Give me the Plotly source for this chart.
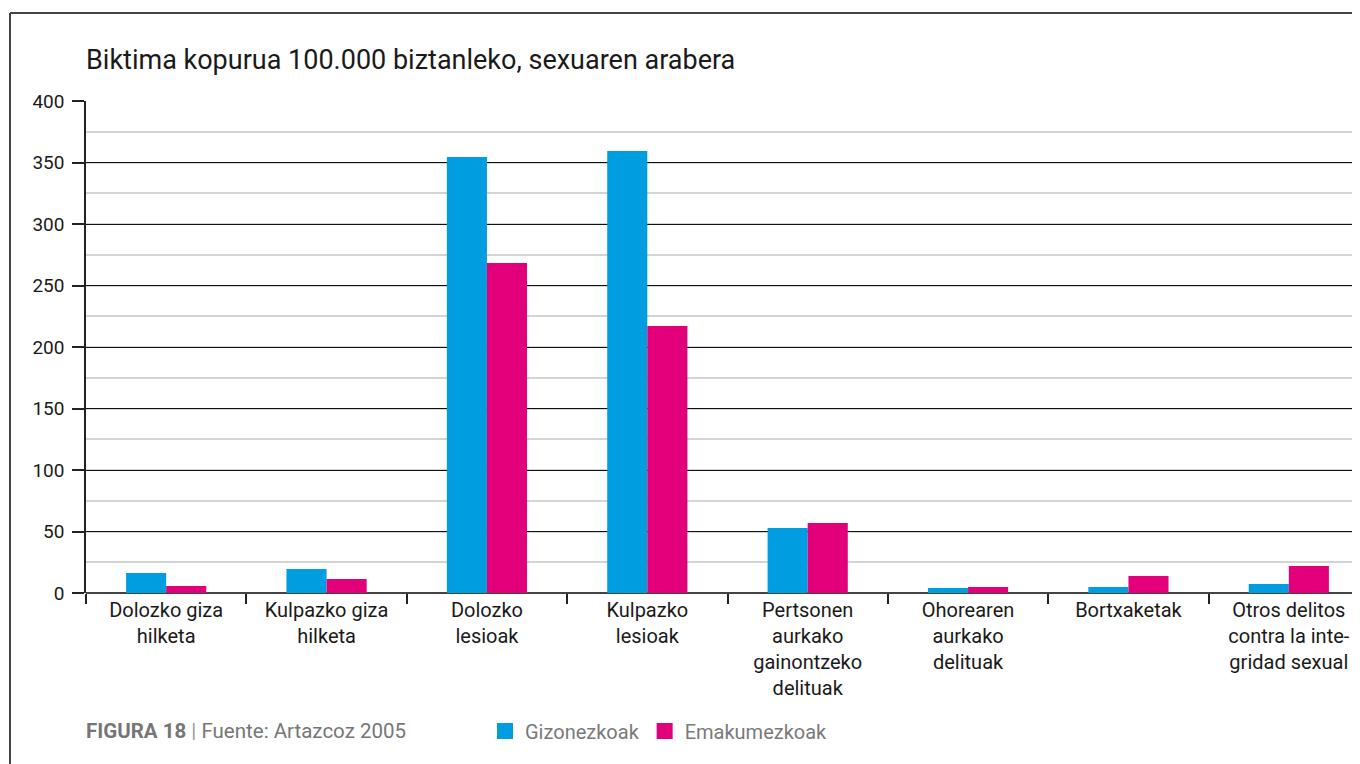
import plotly.graph_objects as go

categories = [
    "Dolozko giza<br>hilketa",
    "Kulpazko giza<br>hilketa",
    "Dolozko<br>lesioak",
    "Kulpazko<br>lesioak",
    "Pertsonen<br>aurkako<br>gainontzeko<br>delituak",
    "Ohorearen<br>aurkako<br>delituak",
    "Bortxaketak",
    "Otros delitos<br>contra la inte-<br>gridad sexual",
]
gizonezkoak = [16.3, 19.5, 354.5, 359.3, 52.8, 4.0, 4.9, 7.3]
emakumezkoak = [5.7, 11.4, 268.3, 217.0, 56.9, 4.9, 13.8, 22.0]
y_ticks = [0, 50, 100, 150, 200, 250, 300, 350, 400]

BLUE = "#009EE0"
PINK = "#E2007A"
FONT = "Roboto"

# the page body has an 8px margin, so the figure is drawn 8px smaller
OFF = 8
W, H = 1360 - OFF, 764 - OFF
L, R, T, B = 86 - OFF, 0, 101 - OFF, 171
PW, PH = W - L - R, H - T - B


def px(xref_pix):
    return (xref_pix - OFF - L) / PW


def py(yref_pix):
    return (H - B - (yref_pix - OFF)) / PH


fig = go.Figure()
fig.add_trace(go.Bar(x=categories, y=gizonezkoak, name="Gizonezkoak",
                     marker=dict(color=BLUE, line=dict(width=0)), showlegend=False))
fig.add_trace(go.Bar(x=categories, y=emakumezkoak, name="Emakumezkoak",
                     marker=dict(color=PINK, line=dict(width=0)), showlegend=False))
# legend entries with larger square swatches
fig.add_trace(go.Scatter(x=[None], y=[None], mode="markers", name="Gizonezkoak",
                         marker=dict(symbol="square", size=18, color=BLUE)))
fig.add_trace(go.Scatter(x=[None], y=[None], mode="markers", name="Emakumezkoak",
                         marker=dict(symbol="square", size=18, color=PINK)))

fig.update_layout(
    width=W, height=H,
    margin=dict(l=L, r=R, t=T, b=B),
    paper_bgcolor="white", plot_bgcolor="white",
    font=dict(family=FONT, size=20, color="#1a1a1a"),
    barmode="group", bargap=0.5, bargroupgap=0,
    showlegend=True,
    legend=dict(orientation="h", xref="container", yref="container",
                x=(485 - OFF) / W, y=1 - (731 - OFF) / H, xanchor="left", yanchor="middle",
                font=dict(family=FONT, size=20, color="#7a7a7a"),
                itemsizing="trace", traceorder="normal", bgcolor="rgba(0,0,0,0)"),
    xaxis=dict(
        type="category",
        range=[-0.5, 7.5 - 9 / 160.4],
        showline=False,
        ticks="outside", tickson="boundaries", ticklen=10, tickcolor="#222", tickwidth=1.5,
        showgrid=False, zeroline=False,
        ticklabelstandoff=3,
        tickfont=dict(family=FONT, size=20, color="#1a1a1a"),
    ),
    yaxis=dict(
        range=[0, 400],
        tickvals=y_ticks,
        ticks="outside", ticklen=12, tickcolor="#222", tickwidth=1.5,
        showline=True, linecolor="#222", linewidth=1.5,
        showgrid=True, gridcolor="#111", gridwidth=1,
        zeroline=True, zerolinecolor="#444", zerolinewidth=2,
        minor=dict(dtick=25, tick0=0, showgrid=True, gridcolor="#d4d4d4", gridwidth=1.5),
        ticklabelstandoff=4,
        tickfont=dict(family=FONT, size=19, color="#1a1a1a"),
    ),
    annotations=[
        dict(text="Biktima kopurua 100.000 biztanleko, sexuaren arabera",
             xref="paper", yref="paper", x=px(84), y=py(60),
             xanchor="left", yanchor="middle", showarrow=False,
             font=dict(family=FONT, size=27, color="#1a1a1a")),
        dict(text="<b>FIGURA 18</b> <span style='color:#999'>|</span> Fuente: Artazcoz 2005",
             xref="paper", yref="paper", x=px(84), y=py(731),
             xanchor="left", yanchor="middle", showarrow=False,
             font=dict(family=FONT, size=20.5, color="#767676")),
    ],
    shapes=[
        dict(type="line", xref="paper", yref="paper",
             x0=px(10), x1=px(10), y0=py(13), y1=py(800),
             line=dict(color="#444", width=2)),
        dict(type="line", xref="paper", yref="paper",
             x0=px(10), x1=px(1400), y0=py(13), y1=py(13),
             line=dict(color="#444", width=2)),
    ],
)

fig.write_html("out.html")
